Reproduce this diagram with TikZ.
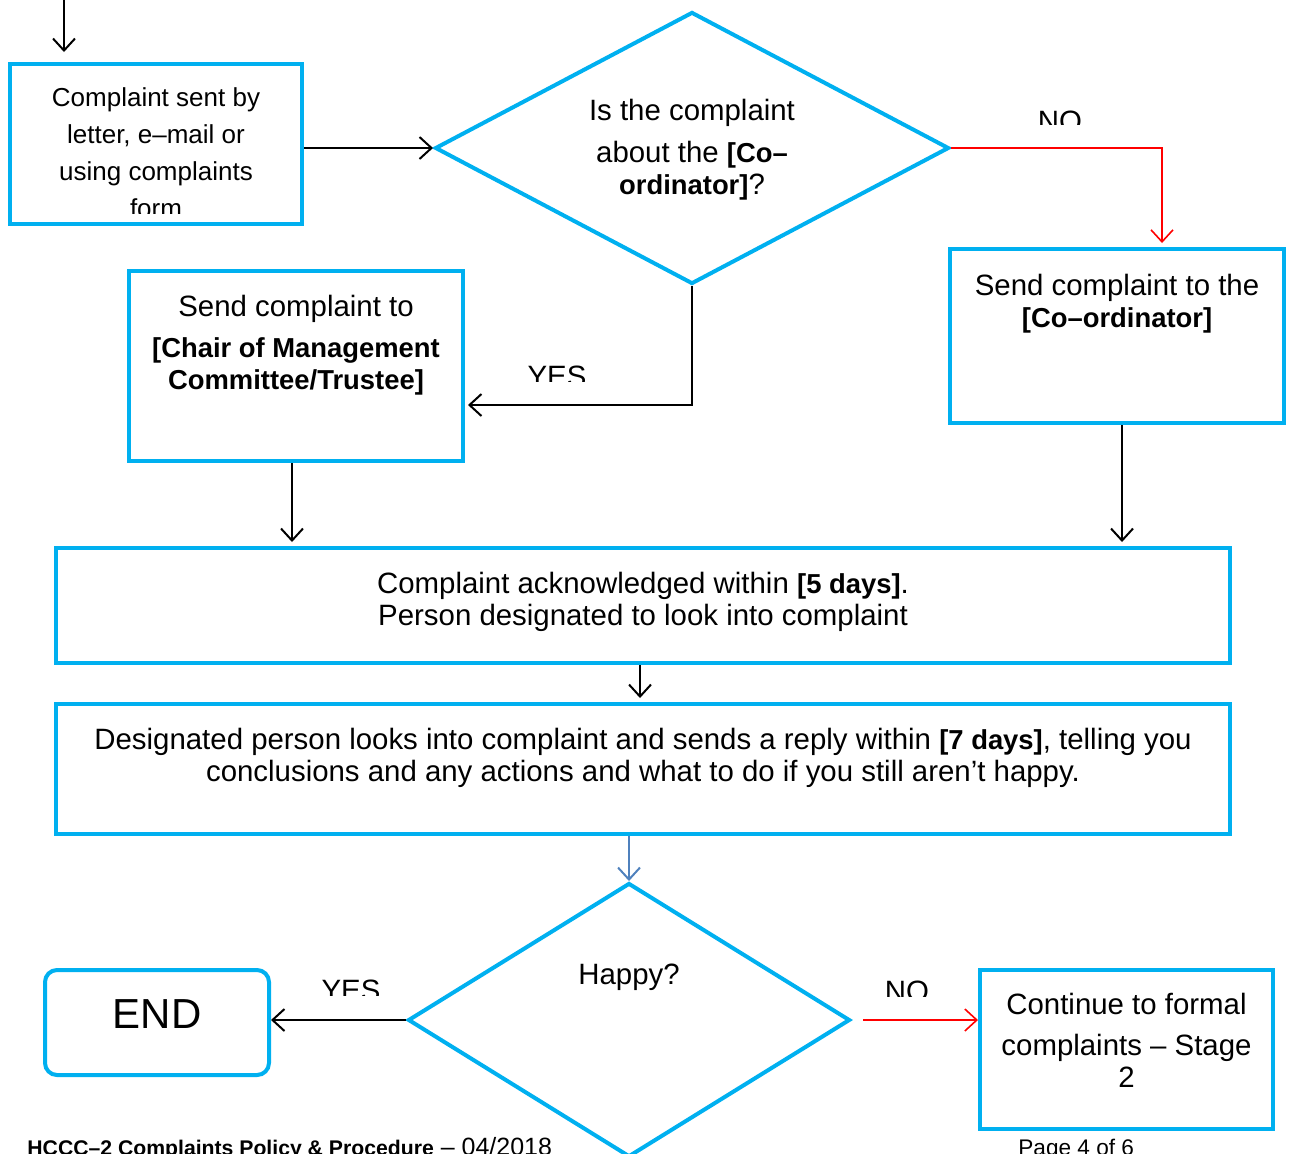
\documentclass[tikz,border=0pt]{standalone}
\usepackage{fontspec}
\setmainfont{Liberation Sans}
\usetikzlibrary{positioning,shapes.geometric,arrows.meta,calc}
\definecolor{boxblue}{HTML}{00B0F0}
\definecolor{linkblue}{HTML}{4F81BD}
\newcommand{\keyterm}[1]{{\fontsize{13.7}{16}\selectfont\bfseries #1}}
\tikzset{
	box/.style={draw=boxblue, line width=2pt, rectangle, inner sep=0pt},
	decision/.style={draw=boxblue, line width=2pt, diamond, inner sep=0pt},
	txt/.style={align=center, inner sep=0pt, anchor=north, font=\fontsize{14.7}{16}\selectfont},
	lbl/.style={inner sep=0pt, anchor=base, font=\fontsize{14.7}{16}\selectfont},
	arr/.style={-{Straight Barb[length=6pt,width=11pt]}, line width=1pt},
}

\begin{document}
\begin{tikzpicture}[x=0.5pt,y=-0.5pt]
			\useasboundingbox (0,0) rectangle (1295,1153);

			% Draw the boxes
			\node[box, minimum width=146pt, minimum height=80pt] (start) at (156,144) {};
			\node[decision, minimum width=257pt, minimum height=136pt] (ask) at (692,148) {};
			\node[box, minimum width=167pt, minimum height=87pt] (coord) at (1117,336) {};
			\node[box, minimum width=167pt, minimum height=95pt] (chair) at (296,366) {};
			\node[box, minimum width=587pt, minimum height=57.5pt] (ack) at (643,605.5) {};
			\node[box, minimum width=587pt, minimum height=65pt] (reply) at (643,769) {};
			\node[decision, minimum width=221pt, minimum height=137pt] (happy) at (629,1020) {};
			\node[box, rounded corners=6pt, minimum width=112pt, minimum height=52.5pt] (end) at (157,1022.5) {};
			\node[box, minimum width=146.5pt, minimum height=79.5pt] (stage) at (1126.5,1049.5) {};

			% Texts in the boxes
			\begin{scope}
				\clip (10,64) rectangle (302,213);
				\node[txt, font=\fontsize{13}{16}\selectfont] (starttext) at (156,87) {Complaint sent by\\[2.5pt] letter, e–mail or\\[2.5pt] using complaints\\[2.5pt] form};
			\end{scope}
			\node[txt] (asktext) at (692,99) {Is the complaint\\[5pt] about the \keyterm{[Co–}\\ \keyterm{ordinator]}?};
			\node[txt] (coordtext) at (1117,274) {Send complaint to the\\ \keyterm{[Co–ordinator]}};
			\node[txt] (chairtext) at (296,295) {Send complaint to\\[4.5pt] \keyterm{[Chair of Management}\\ \keyterm{Committee/Trustee]}};
			\node[txt] (acktext) at (643,572) {Complaint acknowledged within \keyterm{[5 days]}.\\ Person designated to look into complaint};
			\node[txt] (replytext) at (643,728) {Designated person looks into complaint and sends a reply within \keyterm{[7 days]}, telling you\\ conclusions and any actions and what to do if you still aren’t happy.};
			\node[lbl] (happytext) at (629,984) {Happy?};
			\node[lbl, font=\fontsize{21}{24}\selectfont] (endtext) at (157,1028) {END};
			\node[txt] (stagetext) at (1126.5,993) {Continue to formal\\[4.5pt] complaints – Stage\\ 2};

			% Labels on the connectors
			\begin{scope}
				\clip (1000,100) rectangle (1120,124);
				\node[lbl] (no1) at (1060,131) {NO};
			\end{scope}
			\begin{scope}
				\clip (500,350) rectangle (620,381);
				\node[lbl] (yes1) at (557,386) {YES};
			\end{scope}
			\begin{scope}
				\clip (300,960) rectangle (400,995);
				\node[lbl] (yes2) at (351,1000) {YES};
			\end{scope}
			\begin{scope}
				\clip (860,960) rectangle (960,996);
				\node[lbl] (no2) at (907,1001) {NO};
			\end{scope}

			% Draw the connectors
			\coordinate (in) at (64,0);
			\coordinate (inend) at (64,52);
			\draw[arr] (in) -- (inend);
			\draw[arr] (start.east |- ask.west) -- (ask.west);
			\draw[arr, red, line width=0.8pt] (ask.east) -| ($(coord.north)+(45,-4)$);
			\draw[arr] (ask.south) |- ($(chair.east)+(3,39)$);
			\draw[arr] ($(chair.south)+(-4,0)$) -- ($(chair.south |- ack.north)+(-4,-4)$);
			\draw[arr] ($(coord.south)+(5,0)$) -- ($(coord.south |- ack.north)+(5,-4)$);
			\draw[arr] ($(ack.south)+(-3,0)$) -- ($(reply.north)+(-3,-4)$);
			\draw[arr, linkblue] (reply.south -| happy.north) -- (happy.north);
			\draw[arr] (happy.west) -- (end.east |- happy.west);
			\draw[arr, red, line width=0.8pt] ($(happy.east)+(11,0)$) -- (stage.west |- happy.east);

			% Footer
			\node[lbl, anchor=base west, font=\fontsize{12.5}{14}\selectfont] (footer) at (27,1155) {{\fontsize{10.6}{14}\selectfont\bfseries HCCC–2 Complaints Policy \& Procedure} – 04/2018};
			\node[lbl, anchor=base west, font=\fontsize{11.3}{14}\selectfont] (page) at (1018,1155) {Page 4 of 6};
\end{tikzpicture}
\end{document}
